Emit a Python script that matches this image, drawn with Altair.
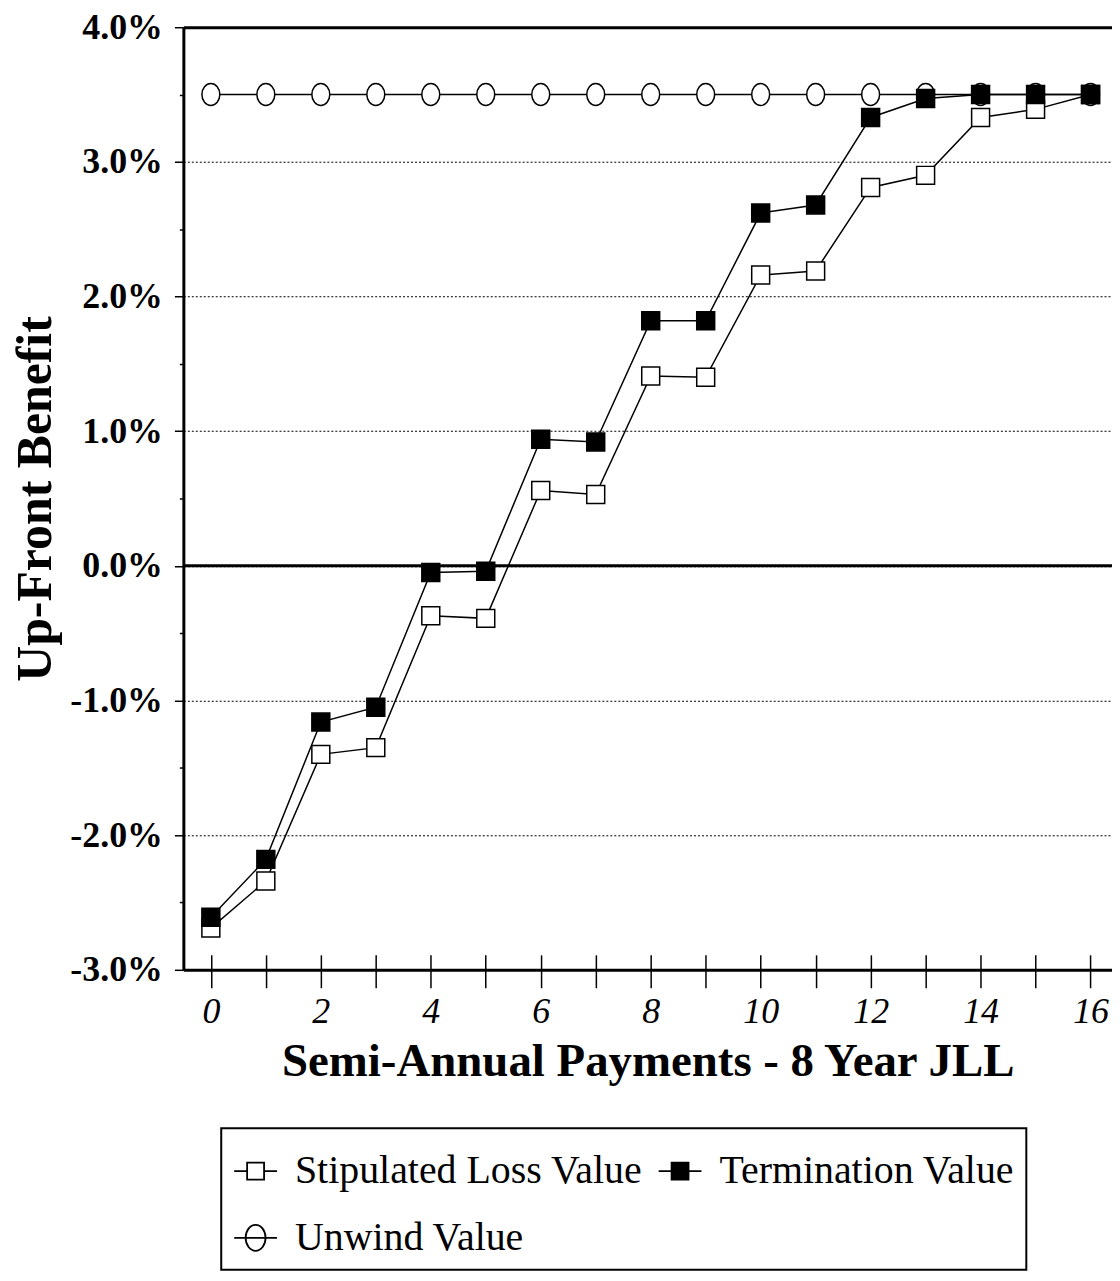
import altair as alt
import pandas as pd

# ---- data ----
payments = [0, 1, 2, 3, 4, 5, 6, 7, 8, 9, 10, 11, 12, 13, 14, 15, 16]
stipulated = [-2.69, -2.34, -1.40, -1.35, -0.37, -0.39, 0.56, 0.53, 1.41, 1.40,
              2.16, 2.19, 2.81, 2.90, 3.33, 3.39, 3.50]
termination = [-2.61, -2.18, -1.16, -1.05, -0.05, -0.04, 0.94, 0.92, 1.82, 1.82,
               2.62, 2.68, 3.33, 3.47, 3.50, 3.50, 3.50]
unwind = [3.5, 3.5, 3.5, 3.5, 3.5, 3.5, 3.5, 3.5, 3.5, 3.5,
          3.5, 3.5, 3.5, 3.5, 3.5, 3.5, 3.5]
series_names = ["Stipulated Loss Value", "Termination Value", "Unwind Value"]
x_label_ticks = [0, 2, 4, 6, 8, 10, 12, 14, 16]
y_major_ticks = [-3, -2, -1, 0, 1, 2, 3, 4]
y_minor_ticks = [-2.5, -1.5, -0.5, 0.5, 1.5, 2.5, 3.5]
zero_line = [0.0]

FONT = "Liberation Serif"

rows = []
for name, vals in (("Unwind Value", unwind), ("Stipulated Loss Value", stipulated),
                   ("Termination Value", termination)):
    for p, v in zip(payments, vals):
        rows.append({"series": name, "payment": p, "value": v})
df = pd.DataFrame(rows)

x_scale = alt.Scale(domain=[-0.5, 16.39], nice=False, zero=False)
y_scale = alt.Scale(domain=[-3, 4], nice=False, zero=False)

ellipse_marker = "M-1,0A1,1.22,0,1,1,1,0A1,1.22,0,1,1,-1,0Z"
leg_open_sq = "M-1,0H-0.567M0,0H0.433M-0.567,-0.283H0V0.283H-0.567Z"
leg_ellipse = "M-1,0H0.433M-0.617,0A0.333,0.433,0,1,1,0.05,0A0.333,0.433,0,1,1,-0.617,0Z"

base = alt.Chart(df)

zero = alt.Chart(pd.DataFrame({"y": zero_line})).mark_rule(
    color="black", strokeWidth=3
).encode(y=alt.Y("y:Q", scale=y_scale, axis=None))

lines = base.mark_line(color="black", strokeWidth=1.5).encode(
    x=alt.X("payment:Q", scale=x_scale, axis=alt.Axis(
        orient="bottom", values=x_label_ticks, ticks=False, tickSize=0,
        domainWidth=3, domainColor="black", grid=False,
        labelFont=FONT, labelFontStyle="italic", labelFontSize=36, labelColor="black",
        labelPadding=25, labelFlush=False,
        title="Semi-Annual Payments - 8 Year JLL", titleFont=FONT, titleFontSize=47,
        titleFontWeight="bold", titleColor="black", titlePadding=9)),
    y=alt.Y("value:Q", scale=y_scale, axis=alt.Axis(
        orient="left", values=y_major_ticks,
        labelExpr="(datum.value < 0 ? '-' : '') + format(abs(datum.value), '.1f') + '%'",
        tickSize=9, tickWidth=1.5, tickColor="black",
        domainWidth=3, domainColor="black",
        grid=True, gridDash=[2, 2], gridColor="black", gridWidth=1,
        labelFont=FONT, labelFontWeight="bold", labelFontSize=36, labelColor="black",
        labelPadding=12, labelFlush=False,
        title="Up-Front Benefit", titleFont=FONT, titleFontSize=50,
        titleFontWeight="bold", titleColor="black", titlePadding=9)),
    detail="series:N",
)

points = base.mark_point(filled=True, opacity=1, stroke="black", strokeWidth=1.5, size=324).encode(
    x=alt.X("payment:Q", scale=x_scale, axis=alt.Axis(
        orient="bottom", values=payments, offset=-15, tickSize=33, tickWidth=1.5,
        tickColor="black", domain=False, labels=False, grid=False, title=None)),
    y=alt.Y("value:Q", scale=y_scale, axis=alt.Axis(
        orient="left", values=y_minor_ticks, tickSize=4, tickWidth=1.5, tickColor="black",
        domain=False, labels=False, grid=False, title=None)),
    shape=alt.Shape("series:N", scale=alt.Scale(domain=series_names,
                    range=["square", "square", ellipse_marker]), legend=None),
    fill=alt.Fill("series:N", scale=alt.Scale(domain=series_names,
                  range=["white", "black", "white"]), legend=None),
)

legend_common = dict(
    orient="none", legendX=38, legendY=1105, columns=2, direction="horizontal", title=None,
    symbolSize=3600, symbolStrokeWidth=1.8, symbolStrokeColor="black", symbolOpacity=1,
    labelFont=FONT, labelFontSize=40, labelColor="black", labelOffset=0, labelLimit=0,
    rowPadding=16, columnPadding=12, padding=12,
    strokeColor="black",
)

legend_layer = base.transform_filter("false").mark_point(
    filled=True, opacity=1, strokeWidth=1.8
).encode(
    x=alt.X("payment:Q", scale=x_scale, axis=alt.Axis(
        orient="top", ticks=False, labels=False, domainWidth=3, domainColor="black",
        grid=False, title=None)),
    y=alt.Y("value:Q", scale=y_scale, axis=None),
    shape=alt.Shape("series:N", scale=alt.Scale(domain=series_names,
                    range=[leg_open_sq, leg_open_sq, leg_ellipse]),
                    legend=alt.Legend(**legend_common)),
    fill=alt.Fill("series:N", scale=alt.Scale(domain=series_names,
                  range=["white", "black", "white"]),
                  legend=alt.Legend(**legend_common)),
    stroke=alt.Stroke("series:N", scale=alt.Scale(domain=series_names,
                      range=["black", "black", "black"]),
                      legend=alt.Legend(**legend_common)),
)

chart = alt.layer(zero, lines, points, legend_layer).resolve_scale(
    shape="independent", fill="independent", stroke="independent"
).resolve_axis(
    x="independent", y="independent"
).properties(
    width=932, height=946,
    autosize=alt.AutoSizeParams(type="none"),
    padding={"left": 176, "top": 17, "right": 0, "bottom": 301},
).configure_view(stroke=None).configure(background="white").configure_legend(strokeWidth=2)

chart.save("out.html", embed_options={"renderer": "svg", "actions": False})
